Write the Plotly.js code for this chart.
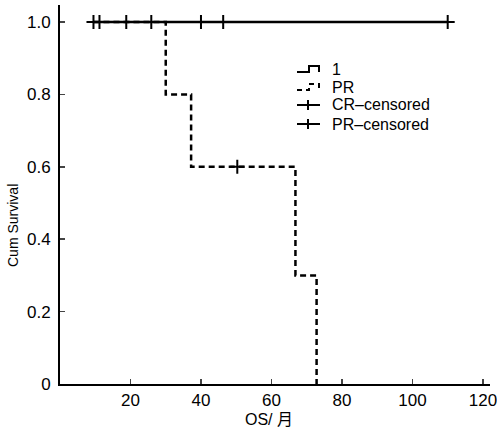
<!DOCTYPE html>
<html><head><meta charset="utf-8">
<script src="https://cdn.plot.ly/plotly-3.0.1.min.js"></script>
<style>body{margin:0;background:#fff}#c{width:497px;height:431px}</style>
</head><body><div id="c"></div>
<script>
// CR group ("1"): all censored, survival stays 1.0
const crCensorTimes = [9.5, 11.2, 18.8, 25.9, 40.0, 46.3, 110.0];
const crSurvival = [1, 1, 1, 1, 1, 1, 1];
// PR group: step curve
const prTimes = [9.5, 30.0, 37.2, 66.8, 72.8];
const prSurvival = [1.0, 0.8, 0.6, 0.3, 0.0];
const prCensorTimes = [50.3];
const prCensorSurvival = [0.6];
const xTicks = [20, 40, 60, 80, 100, 120];
const yTicks = [0, 0.2, 0.4, 0.6, 0.8, 1.0];
const yTickText = ['0', '0.2', '0.4', '0.6', '0.8', '1.0'];
const legendLabels = ['1', 'PR', 'CR–censored', 'PR–censored'];

const W = 497, H = 431, M = {l: 60, r: 7, t: 5, b: 47};
const pw = W - M.l - M.r, ph = H - M.t - M.b;
// pixel -> paper helpers (for legend decoration only)
const PX = x => (x - M.l) / pw;
const PY = y => (H - M.b - y) / ph;

const fontFam = 'Liberation Sans, Arial, Noto Sans CJK SC, sans-serif';
const mk = {symbol: 'cross-thin', size: 10, color: '#000', line: {color: '#000', width: 2}};
const traces = [
  {x: crCensorTimes, y: crSurvival, name: legendLabels[0], mode: 'lines', line: {color: '#000', width: 2.5, shape: 'hv'}},
  {x: prTimes, y: prSurvival, name: legendLabels[1], mode: 'lines', line: {color: '#000', width: 2.5, shape: 'hv', dash: '6px,4px'}},
  {x: crCensorTimes, y: crSurvival, name: legendLabels[2], mode: 'markers', marker: mk},
  {x: prCensorTimes, y: prCensorSurvival, name: legendLabels[3], mode: 'markers', marker: mk}
];

// hand-drawn legend key (compact, like the original)
const rowY = [69, 87, 105, 124];
const shapes = [];
const P = (x, y) => `${PX(x)} ${PY(y)}`;
const stepIcon = (y) => `M ${P(297, y + 3)} L ${P(309, y + 3)} L ${P(309, y - 3)} L ${P(319, y - 3)} L ${P(319, y + 3)}`;
shapes.push({type: 'path', xref: 'paper', yref: 'paper', path: stepIcon(rowY[0]), line: {color: '#000', width: 2}});
shapes.push({type: 'path', xref: 'paper', yref: 'paper', path: stepIcon(rowY[1]), line: {color: '#000', width: 2, dash: '5px,4px'}});
[rowY[2], rowY[3]].forEach(y => {
  shapes.push({type: 'line', xref: 'paper', yref: 'paper', x0: PX(297), x1: PX(320), y0: PY(y), y1: PY(y), line: {color: '#000', width: 2}});
  shapes.push({type: 'line', xref: 'paper', yref: 'paper', x0: PX(308), x1: PX(308), y0: PY(y - 5), y1: PY(y + 5), line: {color: '#000', width: 2}});
});
const annotations = legendLabels.map((t, i) => ({
  text: t, xref: 'paper', yref: 'paper', x: PX(330), y: PY(rowY[i]), xanchor: 'left', yanchor: 'middle',
  showarrow: false, font: {size: 16}
}));
annotations.push({text: 'Cum Survival', textangle: -90, xref: 'paper', yref: 'paper',
  x: PX(13), y: PY(226), xanchor: 'center', yanchor: 'middle', showarrow: false, font: {size: 14}});
annotations.push({text: 'OS/ 月', xref: 'paper', yref: 'paper',
  x: PX(269), y: PY(419), xanchor: 'center', yanchor: 'middle', showarrow: false, font: {size: 16}, borderpad: 0});

const layout = {
  width: W, height: H,
  margin: M,
  paper_bgcolor: '#fff', plot_bgcolor: '#fff',
  font: {family: fontFam, size: 17, color: '#000'},
  showlegend: false,
  xaxis: {range: [0, 122], tickvals: xTicks, ticks: 'inside', ticklen: 5, tickwidth: 1.5,
          tickfont: {size: 17}, ticklabeloverflow: 'allow',
          showline: true, linewidth: 2, linecolor: '#000', showgrid: false, zeroline: false},
  yaxis: {range: [0, 1.047], tickvals: yTicks, ticktext: yTickText, ticks: 'inside', ticklen: 5, tickwidth: 1.5,
          tickfont: {size: 17}, ticklabelstandoff: 4,
          showline: true, linewidth: 2, linecolor: '#000', showgrid: false, zeroline: false},
  shapes: shapes,
  annotations: annotations
};
Plotly.newPlot('c', traces, layout, {displayModeBar: false, staticPlot: true});
</script></body></html>
